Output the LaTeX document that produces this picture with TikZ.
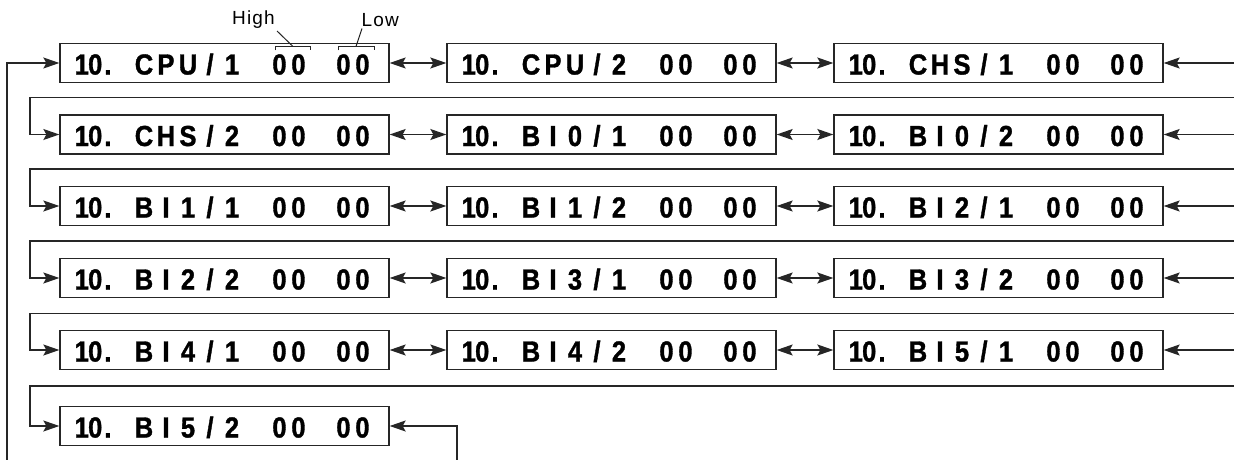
\documentclass[tikz,border=0pt]{standalone}
\usepackage{fontspec}
\setmainfont{Liberation Sans}
\newfontfamily\digfont{Liberation Sans Bold}[FakeStretch=0.88, FakeBold=1.2]
\newfontfamily\lblfont{Liberation Sans}[LetterSpace=6]
\usetikzlibrary{arrows.meta}
% one character centred in a cell of fixed width
\newcommand\cel[2]{\hbox to #1{\hss#2\hss}}
\def\spreadname#1{\spreadA#1\relax}
\def\spreadA#1{\ifx#1\relax\else\cel{22pt}{#1}\expandafter\spreadA\fi}
\newcommand\regtxt[1]{\fontsize{29}{30}\selectfont\digfont\hbox to 329pt{%
  \hskip15pt\rlap{\cel{13.5pt}{1}\cel{13.5pt}{0}\cel{12pt}{.}}%
  \hskip58pt\rlap{\spreadname{#1}}%
  \hskip137pt\rlap{\cel{19pt}{0}\cel{19pt}{0}}%
  \hskip64pt\rlap{\cel{19pt}{0}\cel{19pt}{0}}\hfil}}
\tikzset{
  reg/.style={draw=black!85, line width=1.3pt, rectangle, minimum width=329pt, minimum height=39pt, inner sep=0pt, text height=23pt, text depth=0pt},
  conn/.style={draw=black!85, line width=1.3pt},
  tipA/.tip={Stealth[length=16pt,width=11pt,inset=3pt]},
  arr/.style={conn, -tipA},
  dbl/.style={conn, tipA-tipA},
  lbl/.style={inner sep=0pt, font=\lblfont\fontsize{19}{20}\selectfont},
  brk/.style={draw=black!85, line width=1pt}
}
\begin{document}
\begin{tikzpicture}[x=1pt,y=-1pt]
\useasboundingbox (0,0) rectangle (1234,460);
% boxes
\node[reg] (r1c1) at (224.5,63) {\regtxt{CPU/1}};
\node[reg] (r1c2) at (611.5,63) {\regtxt{CPU/2}};
\node[reg] (r1c3) at (998.5,63) {\regtxt{CHS/1}};
\node[reg] (r2c1) at (224.5,134.5) {\regtxt{CHS/2}};
\node[reg] (r2c2) at (611.5,134.5) {\regtxt{BI0/1}};
\node[reg] (r2c3) at (998.5,134.5) {\regtxt{BI0/2}};
\node[reg] (r3c1) at (224.5,206) {\regtxt{BI1/1}};
\node[reg] (r3c2) at (611.5,206) {\regtxt{BI1/2}};
\node[reg] (r3c3) at (998.5,206) {\regtxt{BI2/1}};
\node[reg] (r4c1) at (224.5,278) {\regtxt{BI2/2}};
\node[reg] (r4c2) at (611.5,278) {\regtxt{BI3/1}};
\node[reg] (r4c3) at (998.5,278) {\regtxt{BI3/2}};
\node[reg] (r5c1) at (224.5,350) {\regtxt{BI4/1}};
\node[reg] (r5c2) at (611.5,350) {\regtxt{BI4/2}};
\node[reg] (r5c3) at (998.5,350) {\regtxt{BI5/1}};
\node[reg] (r6c1) at (224.5,426) {\regtxt{BI5/2}};
% double arrows between boxes
\foreach \r in {1,...,5}{
  \draw[dbl] (r\r c1.east) -- (r\r c2.west);
  \draw[dbl] (r\r c2.east) -- (r\r c3.west);
}
% arrows from right edge
\foreach \r/\y in {1/63,2/134.5,3/206,4/278,5/350}{
  \coordinate (e\r) at (1238,\y);
  \draw[arr] (e\r) -- (r\r c3.east);
}
% wrap lines
\foreach \r/\n/\y in {1/2/97.5,2/3/169,3/4/241,4/5/313.5,5/6/386}{
  \coordinate (wa\r) at (1238,\y);
  \coordinate (wb\r) at (30,\y);
  \draw[arr] (wa\r) -- (wb\r) |- (r\n c1.west);
}
% outer return lines
\coordinate (lb) at (7,464);
\draw[arr] (lb) |- (r1c1.west);
\coordinate (bb) at (457,464);
\draw[arr] (bb) |- (r6c1.east);
% High / Low annotations
\node[lbl, anchor=base west] (hi) at (232,25) {High};
\node[lbl, anchor=base west] (lo) at (361.5,27) {Low};
\coordinate (hiA) at (277,31);
\coordinate (hiB) at (293,46.5);
\coordinate (loA) at (362,28.5);
\coordinate (loB) at (356,46.5);
\draw[brk] (hiA) -- (hiB);
\draw[brk] (loA) -- (loB);
\draw[brk] (275,50.5) -- (275,46.5) -- (310,46.5) -- (310,50.5);
\draw[brk] (338,50.5) -- (338,46.5) -- (374,46.5) -- (374,50.5);
\end{tikzpicture}
\end{document}
